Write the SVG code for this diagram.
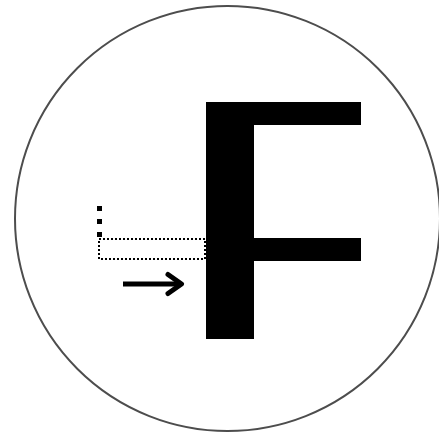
<svg xmlns="http://www.w3.org/2000/svg" width="439" height="435" viewBox="0 0 439 435">
<style>
.circ{fill:#fff;stroke:#4d4d4d;stroke-width:2}
.shape{fill:#000}
.dot{fill:none;stroke:#000;stroke-width:2;stroke-dasharray:2 2}
.dash{stroke:#000;stroke-width:5;stroke-dasharray:5 8}
.arr{fill:none;stroke:#000;stroke-width:5}
</style>
<rect width="439" height="435" fill="#fff"/>
<g id="circle"><circle class="circ" cx="227.5" cy="218.5" r="212.5"/></g>
<g id="dotted-rect"><rect class="dot" x="99" y="239" width="106" height="20"/></g>
<g id="dashed-line"><line class="dash" x1="99.5" y1="237" x2="99.5" y2="198"/></g>
<g id="letter-f"><path class="shape" d="M206 102H361V125H254V238H361V261H254V339H206Z"/></g>
<g id="arrow"><line class="arr" x1="123" y1="284" x2="180" y2="284"/><path class="arr" d="M168 274.5L181.5 284L168 293.5" stroke-linecap="round" stroke-linejoin="round"/></g>
</svg>
